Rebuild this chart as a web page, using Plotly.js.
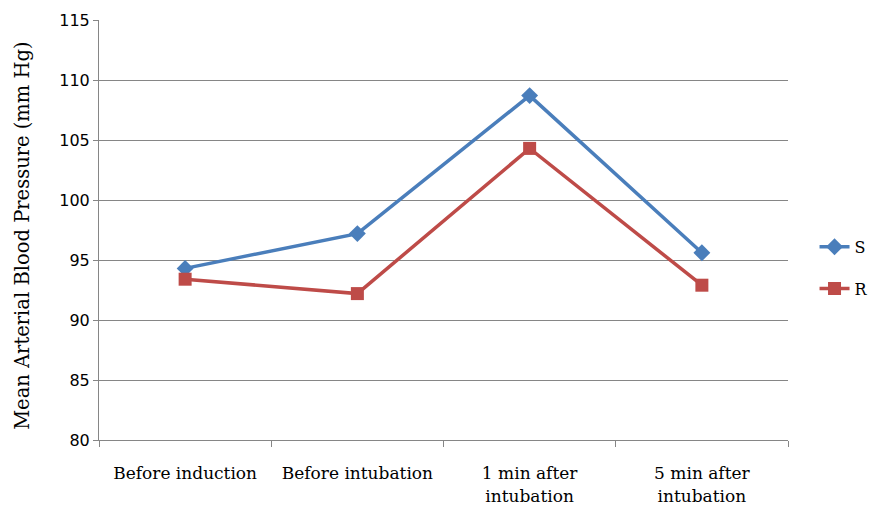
<!DOCTYPE html>
<html>
<head>
<meta charset="utf-8">
<script src="https://cdn.plot.ly/plotly-3.0.1.min.js"></script>
<style>html,body{margin:0;padding:0;background:#fff;}#chart{width:884px;height:510px;}</style>
</head>
<body>
<div id="chart"></div>
<script>
var categories = ["Before induction", "Before intubation", "1 min after<br>intubation", "5 min after<br>intubation"];
var seriesS = [94.3, 97.2, 108.7, 95.6];
var seriesR = [93.4, 92.2, 104.3, 92.9];
var yTicks = [80, 85, 90, 95, 100, 105, 110, 115];
var yTitle = "Mean Arterial Blood Pressure (mm Hg)";

var traces = [
  {x: categories, y: seriesS, name: "S", type: "scatter", mode: "lines+markers",
   legendgroup: "S",
   line: {color: "#4A7EBB", width: 3.5},
   marker: {symbol: "diamond", size: 13, color: "#4A7EBB"}},
  {x: categories, y: seriesR, name: "R", type: "scatter", mode: "lines+markers",
   legendgroup: "R",
   line: {color: "#BE4B48", width: 3.5},
   marker: {symbol: "square", size: 13, color: "#BE4B48"}}
];

var layout = {
  width: 884, height: 510,
  margin: {l: 99, r: 95, t: 20, b: 70},
  paper_bgcolor: "#fff", plot_bgcolor: "#fff",
  showlegend: true,
  legend: {x: 1.037, xanchor: "left", y: 0.41, yanchor: "middle",
           font: {family: "DejaVu Serif", size: 16, color: "#000"},
           traceorder: "grouped", tracegroupgap: 18, bgcolor: "rgba(0,0,0,0)"},
  xaxis: {type: "category", range: [-0.5, 3.5], tickson: "boundaries",
          ticks: "outside", ticklen: 6, tickcolor: "#868686",
          ticklabelstandoff: 18,
          showline: true, linecolor: "#868686", linewidth: 1,
          showgrid: false, zeroline: false,
          tickfont: {family: "DejaVu Serif", size: 17, color: "#000"}},
  yaxis: {range: [80, 115], tickvals: yTicks, ticktext: yTicks.map(String),
          ticks: "outside", ticklen: 5, tickcolor: "#868686",
          showline: true, linecolor: "#868686", linewidth: 1,
          showgrid: true, gridcolor: "#868686", gridwidth: 1, zeroline: false,
          tickfont: {family: "DejaVu Sans", size: 16, color: "#000"}},
  annotations: [{text: yTitle, xref: "paper", yref: "paper",
                 x: -0.112, y: 0.488, xanchor: "center", yanchor: "middle",
                 textangle: -90, showarrow: false,
                 font: {family: "DejaVu Serif", size: 19.5, color: "#000"}}]
};

Plotly.newPlot("chart", traces, layout, {displayModeBar: false, responsive: false});
</script>
</body>
</html>
